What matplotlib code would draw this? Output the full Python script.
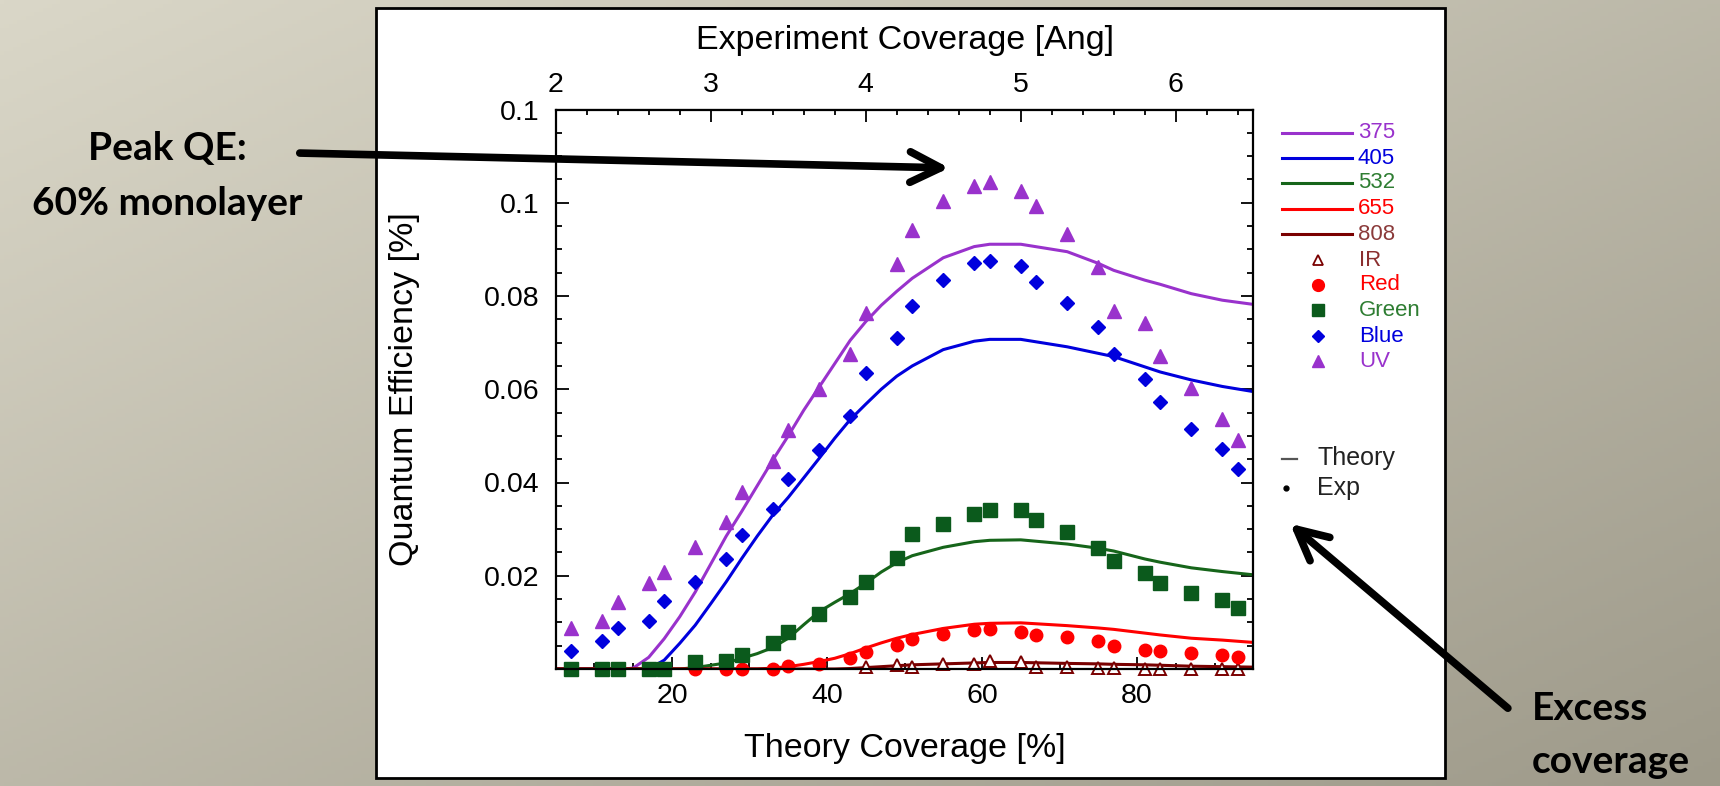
import matplotlib.pyplot as plt
import numpy as np
from matplotlib.lines import Line2D
from matplotlib.patches import FancyArrowPatch, Rectangle
from matplotlib.ticker import FixedLocator, MultipleLocator

plt.rcParams["font.family"] = ["Liberation Sans", "DejaVu Sans"]

# theory curves, QE [%] vs theory coverage [%]
theory_x = [5, 10, 14, 15, 17, 19, 21, 23, 25, 27, 29, 31, 33, 35, 37, 39, 41,
            43, 45, 47, 49, 51, 55, 59, 61, 65, 71, 75, 77, 81, 83, 87, 91, 95]
qe_375 = [0, 0, 0, 0.0002, 0.0025, 0.0065, 0.0112, 0.0165, 0.0225, 0.0285,
          0.0338, 0.0393, 0.0448, 0.0500, 0.0555, 0.0605, 0.0655, 0.0705,
          0.0745, 0.0780, 0.0810, 0.0838, 0.0882, 0.0906, 0.0911, 0.0911,
          0.0895, 0.0870, 0.0855, 0.0834, 0.0825, 0.0805, 0.0791, 0.0782]
qe_405 = [0, 0, 0, 0, 0, 0.0019, 0.0055, 0.0094, 0.0140, 0.0187, 0.0237,
          0.0285, 0.0330, 0.0368, 0.0410, 0.0452, 0.0495, 0.0535, 0.0568,
          0.0600, 0.0628, 0.0650, 0.0685, 0.0703, 0.0707, 0.0707, 0.0691,
          0.0677, 0.0670, 0.0648, 0.0637, 0.0620, 0.0606, 0.0595]
qe_532 = [0, 0, 0, 0, 0, 0, 0, 0.0003, 0.0008, 0.0013, 0.0023, 0.0033, 0.0046,
          0.0066, 0.0095, 0.0123, 0.0143, 0.0162, 0.0184, 0.0208, 0.0228,
          0.0243, 0.0261, 0.0273, 0.0276, 0.0277, 0.0268, 0.0259, 0.0253,
          0.0236, 0.0229, 0.0217, 0.0209, 0.0202]
qe_655 = [0, 0, 0, 0, 0, 0, 0, 0, 0, 0, 0, 0, 0.0002, 0.0005, 0.0010, 0.0016,
          0.0023, 0.0033, 0.0045, 0.0056, 0.0066, 0.0074, 0.0087, 0.0096,
          0.0098, 0.0099, 0.0093, 0.0088, 0.0085, 0.0077, 0.0073, 0.0066,
          0.0062, 0.0057]
qe_808 = [0, 0, 0, 0, 0, 0, 0, 0, 0, 0, 0, 0, 0, 0, 0, 0, 0, 0.0001, 0.0003,
          0.0005, 0.0007, 0.0009, 0.0011, 0.0013, 0.0014, 0.0014, 0.0012,
          0.0011, 0.0010, 0.0009, 0.0008, 0.0006, 0.0005, 0.0004]

# experiment points
exp_x = [7, 11, 13, 17, 19, 23, 27, 29, 33, 35, 39, 43, 45, 49, 51, 55, 59,
         61, 65, 67, 71, 75, 77, 81, 83, 87, 91, 93]
exp_uv = [0.0087, 0.0104, 0.0144, 0.0184, 0.0209, 0.0261, 0.0316, 0.0379,
          0.0446, 0.0512, 0.0600, 0.0676, 0.0763, 0.0868, 0.0941, 0.1004,
          0.1036, 0.1045, 0.1026, 0.0993, 0.0934, 0.0863, 0.0768, 0.0742,
          0.0671, 0.0603, 0.0537, 0.0491]
exp_blue = [0.0039, 0.0059, 0.0087, 0.0104, 0.0146, 0.0187, 0.0235, 0.0287,
            0.0343, 0.0407, 0.0470, 0.0543, 0.0634, 0.0709, 0.0779, 0.0834,
            0.0871, 0.0875, 0.0864, 0.0830, 0.0784, 0.0734, 0.0675, 0.0622,
            0.0572, 0.0514, 0.0472, 0.0428]
exp_green = [0, 0, 0, 0, 0, 0.0014, 0.0017, 0.0030, 0.0055, 0.0080, 0.0117,
             0.0155, 0.0187, 0.0239, 0.0289, 0.0310, 0.0332, 0.0340, 0.0340,
             0.0320, 0.0294, 0.0260, 0.0232, 0.0205, 0.0185, 0.0162, 0.0147,
             0.0130]
red_x = [23, 27, 29, 33, 35, 39, 43, 45, 49, 51, 55, 59, 61, 65, 67, 71, 75,
         77, 81, 83, 87, 91, 93]
exp_red = [0, 0, 0, 0, 0.0006, 0.0010, 0.0023, 0.0037, 0.0051, 0.0064, 0.0076,
           0.0084, 0.0085, 0.0080, 0.0072, 0.0068, 0.0059, 0.0050, 0.0041,
           0.0039, 0.0035, 0.0030, 0.0026]
ir_x = [45, 49, 51, 55, 59, 61, 65, 67, 71, 75, 77, 81, 83, 87, 91, 93]
exp_ir = [0.0004, 0.0008, 0.0004, 0.0010, 0.0010, 0.0018, 0.0015, 0.0004,
          0.0005, 0.0002, 0.0002, 0, 0, 0, 0, 0]

y_ticks = [0, 0.02, 0.04, 0.06, 0.08, 0.10, 0.12]
y_ticklabels = ["", "0.02", "0.04", "0.06", "0.08", "0.1", "0.1"]

c_uv = "#9932CC"
c_blue = "#0000DD"
c_green = "#16651A"
c_green_pt = "#0B5A1C"
c_red = "#FF0000"
c_ir = "#7A0000"

W, H = 1720, 786


def fx(px):
    return px / W


def fy(py):
    return 1 - py / H


fig = plt.figure(figsize=(17.2, 7.86), dpi=100)

# slide background + white panel
bg = fig.add_axes([0, 0, 1, 1], zorder=-1)
gy, gx = np.mgrid[0:1:200j, 0:1:400j]
t = 0.5 * gx + 0.5 * gy
c0 = np.array([218, 215, 200]) / 255
c1 = np.array([158, 154, 138]) / 255
bg.imshow(c0 + (c1 - c0) * t[..., None], extent=[0, 1, 0, 1],
          origin="upper", aspect="auto")
bg.add_patch(Rectangle((fx(376), fy(778)), fx(1445) - fx(376), fy(8) - fy(778),
                       facecolor="white", edgecolor="black", lw=2))
bg.set_xlim(0, 1)
bg.set_ylim(0, 1)
bg.axis("off")

ax = fig.add_axes([fx(555.7), fy(669), fx(1253.3) - fx(555.7), fy(109.5) - fy(669)])

# theory
ax.plot(theory_x, qe_375, color=c_uv, lw=2.2)
ax.plot(theory_x, qe_405, color=c_blue, lw=2.2)
ax.plot(theory_x, qe_532, color=c_green, lw=2.2)
ax.plot(theory_x, qe_655, color=c_red, lw=2.2)
ax.plot(theory_x, qe_808, color=c_ir, lw=2.2)

# experiment
ax.plot(ir_x, exp_ir, ls="none", marker="^", ms=8, mfc="white", mec=c_ir,
        mew=1.4, clip_on=False)
ax.plot(red_x, exp_red, ls="none", marker="o", ms=9, color=c_red, clip_on=False)
ax.plot(exp_x, exp_green, ls="none", marker="s", ms=9.5, color=c_green_pt,
        clip_on=False)
ax.plot(exp_x, exp_blue, ls="none", marker="D", ms=7, color=c_blue, clip_on=False)
ax.plot(exp_x, exp_uv, ls="none", marker="^", ms=9.5, color=c_uv, clip_on=False)

ax.set_xlim(5, 95)
ax.set_ylim(0, 0.12)
ax.xaxis.set_major_locator(FixedLocator([20, 40, 60, 80]))
ax.xaxis.set_minor_locator(MultipleLocator(5))
ax.yaxis.set_major_locator(FixedLocator(y_ticks))
ax.yaxis.set_minor_locator(MultipleLocator(0.005))
ax.set_yticklabels(y_ticklabels)
ax.tick_params(which="both", direction="in", right=True, width=1.3)
ax.tick_params(which="major", length=9, labelsize=20.5)
ax.tick_params(which="minor", length=4.5)
ax.tick_params(axis="x", which="major", pad=10)
ax.tick_params(axis="y", which="major", pad=12)
for s in ax.spines.values():
    s.set_linewidth(1.6)

top = ax.secondary_xaxis("top", functions=(lambda x: x / 20 + 1.75,
                                           lambda a: (a - 1.75) * 20))
top.xaxis.set_major_locator(FixedLocator([2, 3, 4, 5, 6]))
top.xaxis.set_minor_locator(MultipleLocator(0.2))
top.tick_params(which="both", direction="in", width=1.3)
top.tick_params(which="major", length=9, labelsize=20.5, pad=8)
top.tick_params(which="minor", length=4.5)

ax.text(0.5, (669 - 749) / 559.5, "Theory Coverage [%]", transform=ax.transAxes,
        ha="center", va="center", fontsize=24.5)
ax.text(0.5, (669 - 40.6) / 559.5, "Experiment Coverage [Ang]",
        transform=ax.transAxes, ha="center", va="center", fontsize=24.5)
ax.text((404 - 555.7) / 697.6, 0.5, "Quantum Efficiency [%]",
        transform=ax.transAxes, rotation=90, ha="center", va="center",
        fontsize=24.5)

# legend, drawn by hand to the right of the axes
line_entries = [("375", c_uv, c_uv), ("405", c_blue, c_blue),
                ("532", c_green, "#2E7D32"), ("655", c_red, c_red),
                ("808", c_ir, "#8B3A3A")]
line_rows = [133, 158, 183, 209, 234]
for (lab, lc, tc), yy in zip(line_entries, line_rows):
    fig.add_artist(Line2D([fx(1282), fx(1352)], [fy(yy), fy(yy)], color=lc,
                          lw=2.2, transform=fig.transFigure))
    fig.text(fx(1358), fy(yy), lab, color=tc, fontsize=16, va="center")

marker_entries = [("IR", dict(marker="^", ms=7, mfc="white", mec=c_ir, mew=1.3), "#8B2F2F"),
                  ("Red", dict(marker="o", ms=8.5, color=c_red), c_red),
                  ("Green", dict(marker="s", ms=8, color=c_green_pt), "#2E7D32"),
                  ("Blue", dict(marker="D", ms=6, color=c_blue), c_blue),
                  ("UV", dict(marker="^", ms=8.5, color=c_uv), c_uv)]
marker_rows = [260, 285, 310, 336, 361]
for (lab, mk, tc), yy in zip(marker_entries, marker_rows):
    fig.add_artist(Line2D([fx(1318)], [fy(yy)], ls="none",
                          transform=fig.transFigure, **mk))
    fig.text(fx(1359), fy(yy), lab, color=tc, fontsize=16, va="center")

fig.add_artist(Line2D([fx(1282), fx(1297)], [fy(459), fy(459)], color="#555555",
                      lw=1.6, transform=fig.transFigure))
fig.text(fx(1317), fy(458), "Theory", color="#222222", fontsize=18, va="center")
fig.add_artist(Line2D([fx(1286)], [fy(488)], ls="none", marker="o", ms=3.5,
                      color="black", transform=fig.transFigure))
fig.text(fx(1317), fy(488), "Exp", color="#222222", fontsize=18, va="center")

# slide annotations
fig.text(fx(167), fy(160), "Peak QE:", family=["Lato", "DejaVu Sans"],
         weight="bold", fontsize=28, ha="center", va="baseline")
fig.text(fx(167), fy(215), "60% monolayer", family=["Lato", "DejaVu Sans"],
         weight="bold", fontsize=28, ha="center", va="baseline")
fig.text(fx(1532), fy(720), "Excess", family=["Lato", "DejaVu Sans"],
         weight="bold", fontsize=28, ha="left", va="baseline")
fig.text(fx(1532), fy(773), "coverage", family=["Lato", "DejaVu Sans"],
         weight="bold", fontsize=28, ha="left", va="baseline")

for (x0, y0), (x1, y1) in [((297, 153), (952, 168)), ((1510, 710), (1288, 522))]:
    fig.add_artist(FancyArrowPatch((fx(x0), fy(y0)), (fx(x1), fy(y1)),
                                   transform=fig.transFigure,
                                   arrowstyle="->,head_length=22,head_width=11",
                                   mutation_scale=1, lw=5.5, color="black",
                                   capstyle="round", joinstyle="round",
                                   zorder=10))

fig.savefig("out.png", dpi=100)
